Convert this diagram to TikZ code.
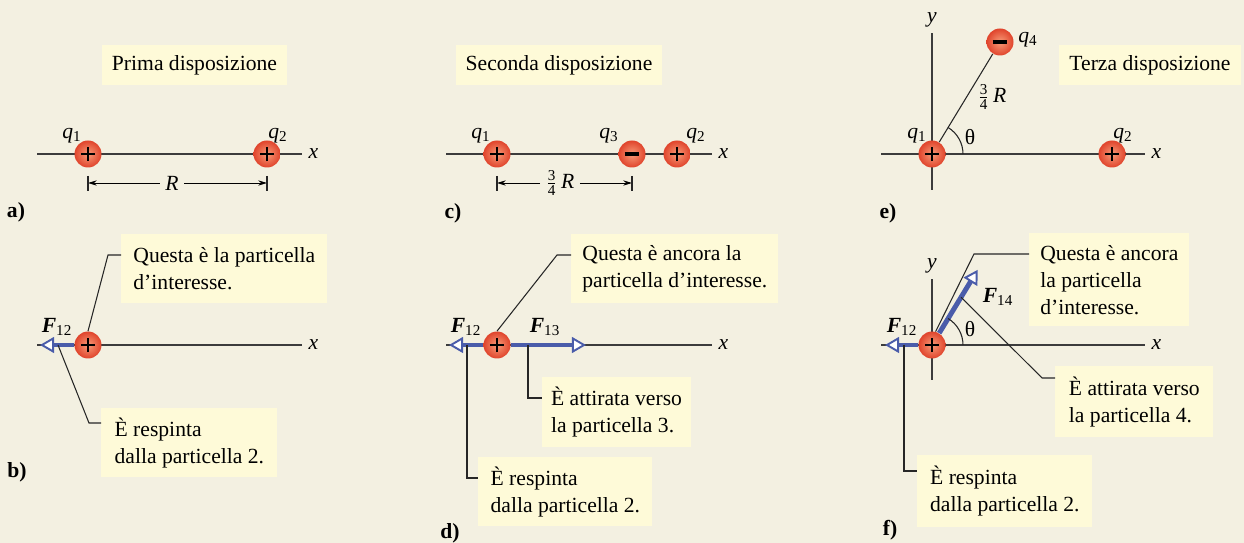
\documentclass[tikz,border=0pt]{standalone}
\usepackage{amsmath}
\usepackage{fontspec}
\setmainfont{Liberation Serif}
\usepackage{xcolor}
\usetikzlibrary{arrows.meta,positioning}

\definecolor{bgcream}{RGB}{243,240,225}
\definecolor{noteyellow}{RGB}{254,250,216}
\definecolor{forceblue}{RGB}{74,92,170}
\definecolor{chargein}{RGB}{247,155,120}
\definecolor{chargeout}{RGB}{224,68,44}
\definecolor{axisgray}{RGB}{60,60,60}

\newcommand{\qname}[1]{\textit{q}\textsubscript{#1}}
\newcommand{\fname}[1]{\textbf{\textit{F}}\textsubscript{#1}}
\newcommand{\threefourR}{$\frac{\text{3}}{\text{4}}$\,\textit{R}}

\begin{document}
\begin{tikzpicture}[x=0.02cm, y=-0.02cm, font=\fontsize{12.3}{15.3}\selectfont]
        \tikzstyle{axisline} = [line width=0.75pt, draw=axisgray]
        \tikzstyle{leader} = [line width=0.6pt, draw=black!85]
        \tikzstyle{dimline} = [line width=0.55pt, -{Stealth[length=5pt,width=3pt]}]
        \tikzstyle{force} = [line width=2.8pt, draw=forceblue, -{Triangle[open,fill=white,length=8pt,width=9pt,line width=1.1pt]}]
        \tikzstyle{charge} = [circle, minimum size=0.54cm, inner sep=0pt, inner color=chargein, outer color=chargeout]
        \tikzstyle{poscharge} = [charge, path picture={\draw[line width=1.5pt] ([xshift=-4pt]path picture bounding box.center) -- ([xshift=4pt]path picture bounding box.center) ([yshift=-4pt]path picture bounding box.center) -- ([yshift=4pt]path picture bounding box.center);}]
        \tikzstyle{negcharge} = [charge, path picture={\draw[line width=2.2pt] ([xshift=-4.2pt]path picture bounding box.center) -- ([xshift=4.2pt]path picture bounding box.center);}]
        \tikzstyle{note} = [fill=noteyellow, anchor=north west, align=left, inner xsep=5pt]
        \tikzstyle{titlebox} = [fill=noteyellow, minimum height=0.8cm]
        \tikzstyle{panel} = [font=\fontsize{12.3}{15.3}\selectfont\bfseries]
        \tikzstyle{axlabel} = [inner sep=0pt]

        \fill[bgcream] (0,0) rectangle (1244,543);
        \useasboundingbox (0,0) rectangle (1244,543);

        \coordinate (ax1) at (37,154);  \coordinate (ax2) at (302,154);
        \coordinate (bx1) at (37,345);  \coordinate (bx2) at (302,345);
        \coordinate (cx1) at (446,154); \coordinate (cx2) at (712,154);
        \coordinate (dx1) at (446,345); \coordinate (dx2) at (712,345);
        \coordinate (ex1) at (881,154); \coordinate (ex2) at (1145,154);
        \coordinate (ey1) at (932,190); \coordinate (ey2) at (932,33);
        \coordinate (fx1) at (881,345); \coordinate (fx2) at (1145,345);
        \coordinate (fy1) at (932,380); \coordinate (fy2) at (932,279);
        \draw[axisline] (ax1) -- (ax2);
        \draw[axisline] (bx1) -- (bx2);
        \draw[axisline] (cx1) -- (cx2);
        \draw[axisline] (dx1) -- (dx2);
        \draw[axisline] (ex1) -- (ex2);
        \draw[axisline] (ey1) -- (ey2);
        \draw[axisline] (fx1) -- (fx2);
        \draw[axisline] (fy1) -- (fy2);
        \node[axlabel, right=3.5pt of ax2] (axl) {\textit{x}};
        \node[axlabel, right=3.5pt of bx2] (bxl) {\textit{x}};
        \node[axlabel, right=3.5pt of cx2] (cxl) {\textit{x}};
        \node[axlabel, right=3.5pt of dx2] (dxl) {\textit{x}};
        \node[axlabel, right=3.5pt of ex2] (exl) {\textit{x}};
        \node[axlabel, right=3.5pt of fx2] (fxl) {\textit{x}};
        \node[axlabel, above=3pt of ey2] (eyl) {\textit{y}};
        \node[axlabel, above=3pt of fy2] (fyl) {\textit{y}};

        \node[poscharge] (a1) at (88,154) {};
        \node[poscharge] (a2) at (267,154) {};
        \node[poscharge] (b1) at (88,345) {};
        \node[poscharge] (c1) at (497,154) {};
        \node[negcharge] (c3) at (632,154) {};
        \node[poscharge] (c2) at (677,154) {};
        \node[poscharge] (d1) at (497,345) {};
        \node[poscharge] (e1) at (932,154) {};
        \node[poscharge] (e2) at (1112,154) {};
        \node[negcharge] (e4) at (1000,42) {};
        \node[poscharge] (f1) at (932,345) {};

        \node (qa1) at ([shift={(-16,-18)}]a1) {\qname{1}};
        \node (qa2) at ([shift={(11,-18)}]a2) {\qname{2}};
        \node (qc1) at ([shift={(-16,-18)}]c1) {\qname{1}};
        \node (qc3) at ([shift={(-23,-18)}]c3) {\qname{3}};
        \node (qc2) at ([shift={(19,-18)}]c2) {\qname{2}};
        \node (qe1) at ([shift={(-15,-18)}]e1) {\qname{1}};
        \node (qe2) at ([shift={(11,-18)}]e2) {\qname{2}};
        \node (qe4) at ([shift={(28,-2)}]e4) {\qname{4}};

        \node[titlebox, minimum width=3.7cm] (ta) at (194.5,65) {Prima disposizione};
        \node[titlebox, minimum width=4.12cm] (tc) at (559,65) {Seconda disposizione};
        \node[titlebox, minimum width=3.64cm] (te) at (1150,65) {Terza disposizione};

        \coordinate (da1) at (88,183);  \coordinate (da2) at (267,183);
        \coordinate (dc1) at (497,183); \coordinate (dc2) at (632,183);
        \node[inner xsep=3pt] (ra) at (172,183) {\textit{R}};
        \node[inner xsep=3pt] (rc) at (560,183) {\threefourR};
        \draw[dimline] (ra) -- (da1);
        \draw[dimline] (ra) -- (da2);
        \draw[dimline] (rc) -- (dc1);
        \draw[dimline] (rc) -- (dc2);
        \draw[leader] (da1) ++(0,-7) -- ++(0,15);
        \draw[leader] (da2) ++(0,-7) -- ++(0,15);
        \draw[leader] (dc1) ++(0,-7) -- ++(0,15);
        \draw[leader] (dc2) ++(0,-7) -- ++(0,15);

        \draw[leader] (e1) -- (e4);
        \draw[leader] ([shift={(31,0)}]e1.center) arc[start angle=0, end angle=-58.7, radius=31];
        \node (the) at (970,137) {θ};
        \node (re) at (992,97) {\threefourR};

        \coordinate (bf12) at (40,345);
        \coordinate (df12) at (449,345);
        \coordinate (df13) at (586,345);
        \coordinate (ff12) at (885,345);
        \coordinate (ff14) at ([shift={(-58.7:88)}]f1.center);
        \draw[force] (b1.west) -- (bf12);
        \draw[force] (d1.west) -- (df12);
        \draw[force] (d1.east) -- (df13);
        \draw[force] (f1.west) -- (ff12);
        \draw[force] (f1) -- (ff14);
        \node (lbf12) at (57,327) {\fname{12}};
        \node (ldf12) at (466,327) {\fname{12}};
        \node (ldf13) at (545,327) {\fname{13}};
        \node (lff12) at (902,327) {\fname{12}};
        \node (lff14) at (998,297) {\fname{14}};
        \draw[leader] ([shift={(31,0)}]f1.center) arc[start angle=0, end angle=-58.7, radius=31];
        \node (thf) at (970,329) {θ};

        \node[note, minimum width=4.12cm, minimum height=1.38cm] (bn1) at (121,234) {Questa è la particella\\d’interesse.};
        \node[note, minimum width=3.52cm, minimum height=1.38cm] (bn2) at (101,408) {È respinta\\dalla particella 2.};
        \node[note, minimum width=4.14cm, minimum height=1.38cm] (dn1) at (571,234) {Questa è ancora la\\particella d’interesse.};
        \node[note, minimum width=2.94cm, minimum height=1.40cm] (dn2) at (542,377) {È attirata verso\\la particella 3.};
        \node[note, minimum width=3.48cm, minimum height=1.38cm] (dn3) at (478,457) {È respinta\\dalla particella 2.};
        \node[note, minimum width=3.2cm, minimum height=1.86cm] (fn1) at (1029,233) {Questa è ancora\\la particella\\d’interesse.};
        \node[note, minimum width=3.16cm, minimum height=1.42cm] (fn2) at (1055,366) {È attirata verso\\la particella 4.};
        \node[note, minimum width=3.5cm, minimum height=1.44cm] (fn3) at (917,455) {È respinta\\dalla particella 2.};

        \coordinate (bk1) at (108,255);
        \coordinate (bp2) at (58,345);  \coordinate (bk2) at (89,423);
        \coordinate (dk1) at (557,255);
        \coordinate (dp2) at (528,345); \coordinate (dk2) at (528,398);
        \coordinate (dp3) at (467,345); \coordinate (dk3) at (467,478);
        \coordinate (fk1) at (974,254);
        \coordinate (fp2) at ([shift={(-58.7:56)}]f1.center); \coordinate (fk2) at (1042,378);
        \coordinate (fp3) at (904,345); \coordinate (fk3) at (904,471);
        \draw[leader] (b1.north) -- (bk1) -- (bk1 -| bn1.west);
        \draw[leader] (bp2) -- (bk2) -- (bk2 -| bn2.west);
        \draw[leader] (d1.north) -- (dk1) -- (dk1 -| dn1.west);
        \draw[leader] (dp2) -- (dk2) -- (dk2 -| dn2.west);
        \draw[leader] (dp3) -- (dk3) -- (dk3 -| dn3.west);
        \draw[leader] (f1.75) -- (fk1) -- (fk1 -| fn1.west);
        \draw[leader] (fp2) -- (fk2) -- (fk2 -| fn2.west);
        \draw[leader] (fp3) -- (fk3) -- (fk3 -| fn3.west);

        \node[panel] (pa) at (16,212) {a)};
        \node[panel] (pb) at (17,472) {b)};
        \node[panel] (pc) at (453,213) {c)};
        \node[panel] (pd) at (450,533) {d)};
        \node[panel] (pe) at (888,213) {e)};
        \node[panel] (pf) at (890,530) {f)};
    \end{tikzpicture}
\end{document}
